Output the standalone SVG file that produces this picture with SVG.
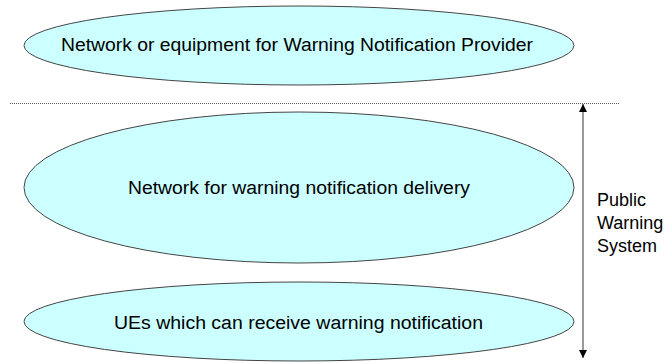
<svg xmlns="http://www.w3.org/2000/svg" width="671" height="363" viewBox="0 0 671 363">
<style>
.node ellipse{fill:#ccffff;stroke:#444;stroke-width:1}
text{font-family:"Liberation Sans",Arial,sans-serif;font-size:18px;fill:#000}
.c{text-anchor:middle}
</style>
<defs>
<marker id="ah" viewBox="0 0 10 10" refX="10" refY="5" markerWidth="9" markerHeight="8" markerUnits="userSpaceOnUse" orient="auto-start-reverse">
<path d="M0,0 L10,5 L0,10 z" fill="#000"/>
</marker>
</defs>
<rect width="671" height="363" fill="#fff"/>
<g id="provider" class="node">
<ellipse cx="299" cy="45.5" rx="275" ry="39.5"/>
<text class="c" x="297" y="51" textLength="472" lengthAdjust="spacingAndGlyphs">Network or equipment for Warning Notification Provider</text>
</g>
<g id="delivery" class="node">
<ellipse cx="299" cy="187.5" rx="275" ry="75.5"/>
<text class="c" x="299" y="194" textLength="342" lengthAdjust="spacingAndGlyphs">Network for warning notification delivery</text>
</g>
<g id="ues" class="node">
<ellipse cx="299" cy="321.5" rx="275" ry="39.5"/>
<text class="c" x="298.5" y="329" textLength="369" lengthAdjust="spacingAndGlyphs">UEs which can receive warning notification</text>
</g>
<g id="pws-label">
<text x="597" y="205.5">Public</text>
<text x="597" y="228.5">Warning</text>
<text x="597" y="251.5">System</text>
</g>
<g id="connectors">
<line x1="10" y1="103.5" x2="620" y2="103.5" stroke="#555" stroke-width="1" stroke-dasharray="1,1"/>
<line x1="583" y1="104" x2="583" y2="358" stroke="#333" stroke-width="1" marker-start="url(#ah)" marker-end="url(#ah)"/>
</g>
</svg>
